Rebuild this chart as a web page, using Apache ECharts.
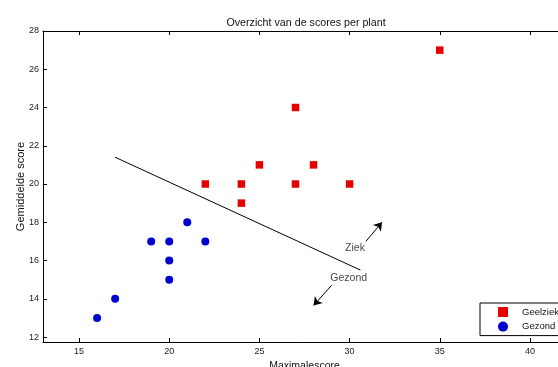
<!DOCTYPE html>
<html>
<head>
<meta charset="utf-8">
<script src="https://cdn.jsdelivr.net/npm/echarts@6/dist/echarts.min.js"></script>
<style>html,body{margin:0;padding:0;background:#fff;}#c{width:558px;height:367px;}</style>
</head>
<body>
<div id="c"></div>
<script>
var xTicks = [15, 20, 25, 30, 35, 40];
var yTicks = [12, 14, 16, 18, 20, 22, 24, 26, 28];
var geelziek = [[22,20],[24,20],[24,19],[25,21],[27,24],[27,20],[28,21],[30,20],[35,27]];
var gezond = [[16,13],[17,14],[19,17],[20,17],[20,16],[20,15],[21,18],[22,17]];
var scheidingslijn = [[17,21.4],[30.6,15.5]];
var pijlZiek = [[30.9,17.0],[31.8,18.0]];
var pijlGezond = [[29.0,14.7],[28.0,13.65]];
var tekstLabels = [{name:'Ziek', value:[30.3,16.65]},{name:'Gezond', value:[29.95,15.1]}];

var chart = echarts.init(document.getElementById('c'));
var font = 'Liberation Sans, Arial, sans-serif';
chart.setOption({
  animation: false,
  backgroundColor: '#fff',
  title: {
    text: 'Overzicht van de scores per plant',
    left: 301, top: 13, textAlign: 'center',
    textStyle: {fontSize: 10.7, fontWeight: 'normal', color: '#111', fontFamily: font}
  },
  legend: {
    orient: 'vertical', left: 480, top: 303,
    padding: [4, 40, 4, 18],
    itemWidth: 10, itemHeight: 10, itemGap: 4.6,
    borderColor: '#000', borderWidth: 1, backgroundColor: '#fff',
    textStyle: {fontSize: 9.5, color: '#111', fontFamily: font, padding: [0,0,0,9]},
    data: [{name:'Geelziek', icon:'rect'}, {name:'Gezond', icon:'circle'}]
  },
  grid: {left: 43, top: 31, width: 523, height: 311, containLabel: false, outerBoundsMode: 'none'},
  xAxis: [{
    type: 'value', min: 13, max: 42,
    name: 'Maximalescore', nameLocation: 'middle', nameGap: 19, nameMoveOverlap: false,
    nameTextStyle: {fontSize: 10.5, color: '#111', fontFamily: font},
    axisLine: {show: true, onZero: false, lineStyle: {color: '#000'}},
    axisTick: {show: true, inside: true, length: 4, customValues: xTicks, lineStyle: {color: '#000'}},
    axisLabel: {customValues: xTicks, fontSize: 9, color: '#222', fontFamily: font, margin: 5},
    splitLine: {show: false}
  }, {
    type: 'value', min: 13, max: 42, position: 'top',
    axisLine: {show: true, lineStyle: {color: '#000'}},
    axisTick: {show: true, inside: true, length: 4, customValues: xTicks, lineStyle: {color: '#000'}},
    axisLabel: {show: false}, splitLine: {show: false}
  }],
  yAxis: [{
    type: 'value', min: 11.74, max: 28,
    name: 'Gemiddelde score', nameLocation: 'middle', nameGap: 17, nameRotate: 90, nameMoveOverlap: false,
    nameTextStyle: {fontSize: 11, color: '#111', fontFamily: font},
    axisLine: {show: true, onZero: false, lineStyle: {color: '#000'}},
    axisTick: {show: true, inside: true, length: 4, customValues: yTicks, lineStyle: {color: '#000'}},
    axisLabel: {customValues: yTicks, fontSize: 9, color: '#222', fontFamily: font, margin: 4},
    splitLine: {show: false}
  }],
  series: [
    {name: 'Geelziek', type: 'scatter', symbol: 'rect', symbolSize: 7.5,
     itemStyle: {color: '#e60000', opacity: 1}, data: geelziek, z: 5},
    {name: 'Gezond', type: 'scatter', symbol: 'circle', symbolSize: 8,
     itemStyle: {color: '#0000d0', opacity: 1}, data: gezond, z: 5},
    {type: 'line', data: scheidingslijn, symbol: 'none', silent: true,
     lineStyle: {color: '#000', width: 1}},
    {type: 'lines', coordinateSystem: 'cartesian2d', silent: true,
     symbol: ['none', 'arrow'], symbolSize: 8,
     lineStyle: {color: '#000', width: 1, opacity: 1},
     data: [{coords: pijlZiek}, {coords: pijlGezond}]},
    {type: 'scatter', symbolSize: 0, silent: true, data: tekstLabels,
     label: {show: true, position: 'inside', formatter: '{b}', fontSize: 10.5, color: '#111', fontFamily: font}}
  ]
});
</script>
</body>
</html>
